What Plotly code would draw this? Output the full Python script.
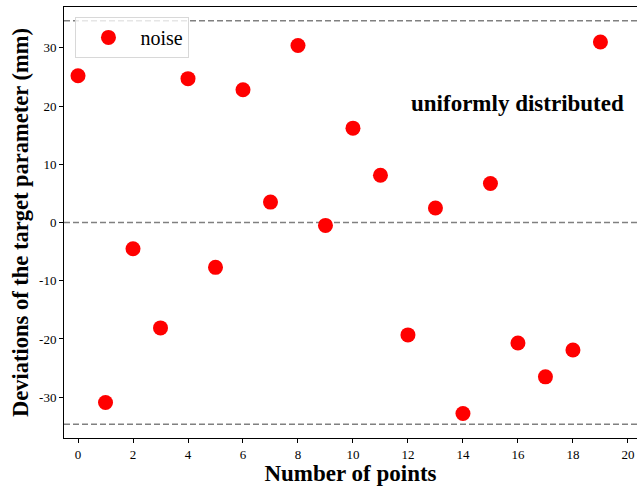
import plotly.graph_objects as go

# Sample index and measured deviation (mm)
points = list(range(20))
noise = [25.2, -30.9, -4.5, -18.1, 24.7, -7.7, 22.8, 3.5, 30.4, -0.5,
         16.2, 8.1, -19.3, 2.5, -32.8, 6.7, -20.7, -26.5, -21.9, 31.0]

# Reference lines: zero and the uniform bounds (+/- 20*sqrt(3))
ref_levels = [34.64, 0.0, -34.64]

x_ticks = list(range(0, 21, 2))
y_ticks = [-30, -20, -10, 0, 10, 20, 30]
y_tick_text = ["-30", "-20", "-10", "0", "10", "20", "30"]

serif = "Liberation Serif, Times New Roman, serif"

fig = go.Figure()

for lvl in ref_levels:
    fig.add_hline(y=lvl, line=dict(color="#808080", width=1.6, dash="6px,3px"), layer="below")

fig.add_trace(go.Scatter(
    x=points, y=noise, mode="markers", name="noise",
    marker=dict(color="red", size=15, line=dict(width=0)),
))

fig.add_annotation(
    x=16.0, y=20.4, xref="x", yref="y", text="<b>uniformly distributed</b>",
    showarrow=False, font=dict(family=serif, size=23, color="black"),
)

fig.update_layout(
    width=637, height=486,
    margin=dict(l=64, r=0, t=7, b=48),
    paper_bgcolor="white", plot_bgcolor="white",
    font=dict(family=serif, color="black"),
    showlegend=True,
    legend=dict(
        x=0.02, y=0.977, xanchor="left", yanchor="top",
        bgcolor="rgba(255,255,255,0.8)", bordercolor="#d8d8d8", borderwidth=1,
        font=dict(family=serif, size=20), itemsizing="trace", itemwidth=54,
    ),
)

fig.update_xaxes(
    range=[-0.51, 20.33], tickvals=x_ticks, showgrid=False, zeroline=False,
    showline=True, linecolor="black", linewidth=1, mirror=True,
    ticks="outside", ticklen=4, tickcolor="black",
    tickfont=dict(family=serif, size=13),
    title=dict(text="<b>Number of points</b>", font=dict(family=serif, size=23), standoff=5),
)
fig.update_yaxes(
    range=[-37.0, 37.0], tickvals=y_ticks, ticktext=y_tick_text,
    showgrid=False, zeroline=False,
    showline=True, linecolor="black", linewidth=1, mirror=False,
    ticks="outside", ticklen=4, tickcolor="black",
    tickfont=dict(family=serif, size=13),
    title=dict(text="<b>Deviations of the target parameter (mm)</b>",
               font=dict(family=serif, size=22.5), standoff=4),
)

fig.write_html("out.html")
